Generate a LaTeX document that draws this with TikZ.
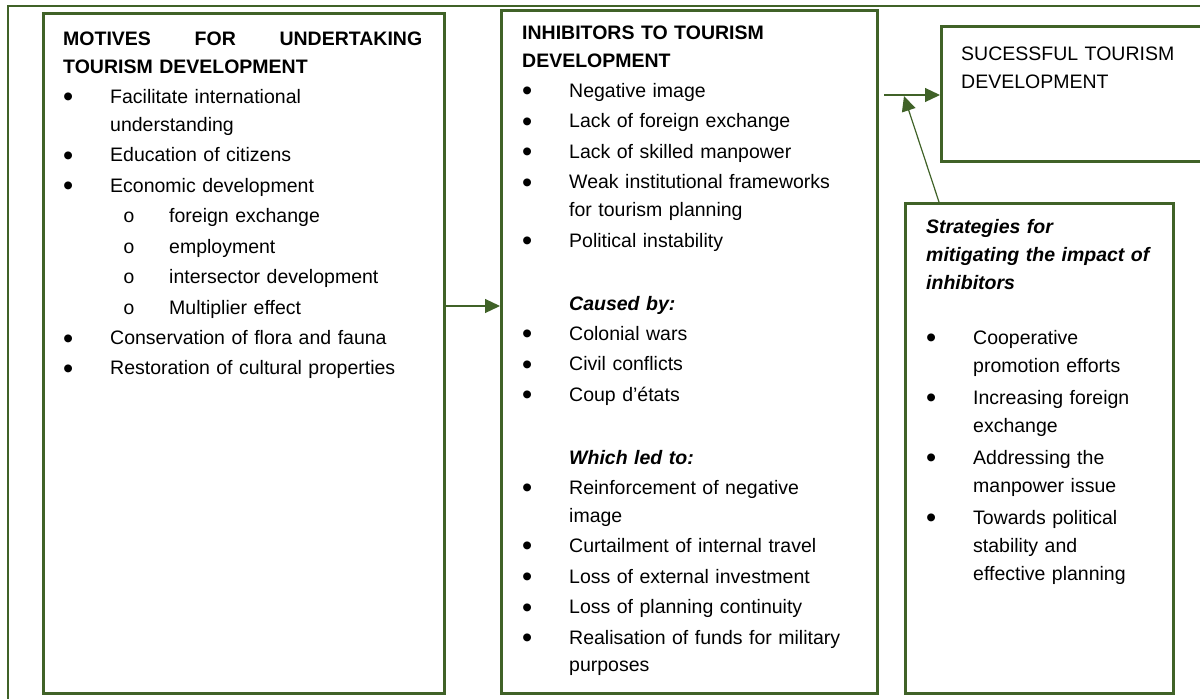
\documentclass[tikz,border=0pt]{standalone}
\usepackage{fontspec}
\setmainfont{Liberation Sans}
\setmonofont{Liberation Mono}
\usepackage{enumitem}
\usepackage{tikz}
\usetikzlibrary{arrows.meta,positioning}
\definecolor{olivegreen}{RGB}{64,98,40}

\newcommand{\bigdot}{\raisebox{-3.5pt}{\fontsize{29pt}{29pt}\selectfont\textbullet}}
\newlist{bul}{itemize}{2}
\setlist[bul,1]{label=\bigdot, leftmargin=47pt, labelindent=0pt, labelwidth=47pt, labelsep=0pt, align=left,
  topsep=2pt, itemsep=2.5pt, parsep=0pt, partopsep=0pt}
\setlist[bul,2]{label=\texttt{o}, leftmargin=59pt, labelindent=13pt, labelwidth=46pt, labelsep=0pt, align=left,
  topsep=2.5pt, itemsep=2.5pt, parsep=0pt, partopsep=0pt}

\begin{document}
\begin{tikzpicture}[x=1pt, y=-1pt,
    box/.style={draw=olivegreen, line width=2.5pt, anchor=north west, inner sep=0pt},
    txt/.style={anchor=base west, inner sep=0pt, align=left, font=\fontsize{19.5pt}{28pt}\selectfont},
    arrow/.style={draw=olivegreen, line width=1.2pt, -{Triangle[length=15pt, width=14pt]}}]
    \useasboundingbox (0,0) rectangle (1200,699);

    % outer frame (top and left only)
    \draw[olivegreen, line width=1.5pt] (8,699) -- (8,6) -- (1200,6);

    % motives
    \node[box, minimum width=401pt, minimum height=680pt] (motives) at (42,12) {};
    \node[txt, text width=359pt] (motivestext) at (63,45) {%
      \hbox to\linewidth{\bfseries MOTIVES\hfill FOR\hfill UNDERTAKING}
      \textbf{TOURISM DEVELOPMENT}
      \begin{bul}
        \item Facilitate international\newline understanding
        \item Education of citizens
        \item Economic development
        \begin{bul}
          \item foreign exchange
          \item employment
          \item intersector development
          \item Multiplier effect
        \end{bul}
        \item Conservation of flora and fauna
        \item Restoration of cultural properties
      \end{bul}};

    % inhibitors
    \node[box, minimum width=376pt, minimum height=683pt] (inhibitors) at (500,9) {};
    \node[txt, text width=330pt] (inhibitorstext) at (522,39) {%
      \textbf{INHIBITORS TO TOURISM\\DEVELOPMENT}
      \begin{bul}
        \item Negative image
        \item Lack of foreign exchange
        \item Lack of skilled manpower
        \item Weak institutional frameworks\newline for tourism planning
        \item Political instability
      \end{bul}\par\vspace{33pt}
      \hspace*{47pt}\textbf{\textit{Caused by:}}
      \begin{bul}
        \item Colonial wars
        \item Civil conflicts
        \item Coup d’états
      \end{bul}\par\vspace{33pt}
      \hspace*{47pt}\textbf{\textit{Which led to:}}
      \begin{bul}
        \item Reinforcement of negative\newline image
        \item Curtailment of internal travel
        \item Loss of external investment
        \item Loss of planning continuity
        \item Realisation of funds for military\newline purposes
      \end{bul}};

    % outcome
    \node[box, minimum width=280pt, minimum height=135pt] (success) at (940,25) {};
    \node[txt, text width=230pt] (successtext) at (961,60) {SUCESSFUL TOURISM\\DEVELOPMENT};

    % strategies
    \node[box, minimum width=268pt, minimum height=490pt] (strategies) at (904,202) {};
    \node[txt, text width=240pt] (strategiestext) at (926,233) {%
      \textbf{\textit{Strategies for\\mitigating the impact of\\inhibitors}}\par\vspace{25pt}
      \begin{bul}[itemsep=4pt]
        \item Cooperative\newline promotion efforts
        \item Increasing foreign\newline exchange
        \item Addressing the\newline manpower issue
        \item Towards political\newline stability and\newline effective planning
      \end{bul}};

    % connectors
    \coordinate (m2i) at (443,306);
    \draw[arrow] (m2i) -- (m2i -| inhibitors.west);
    \coordinate (feed) at (884,95);
    \draw[arrow] (feed) -- (feed -| success.west);
    \coordinate (meet) at (904,96);
    \draw[arrow] ([xshift=35pt]strategies.north west) -- (meet);
\end{tikzpicture}
\end{document}
